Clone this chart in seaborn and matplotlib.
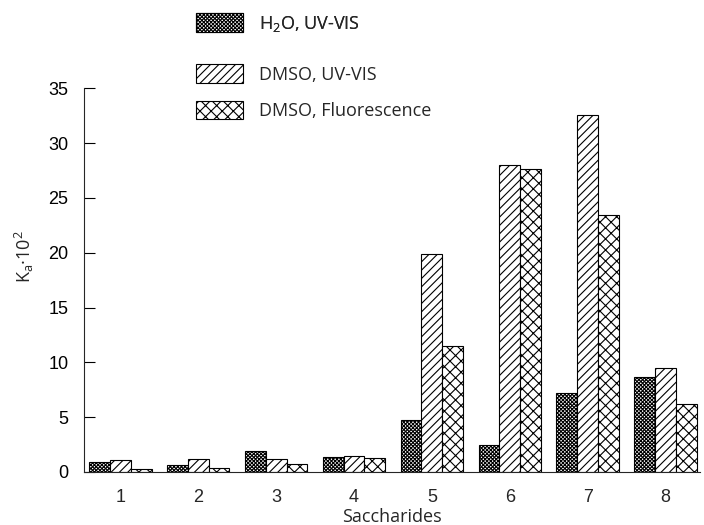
import matplotlib
matplotlib.use('Agg')
import matplotlib.pyplot as plt
import seaborn as sns
import pandas as pd

# dados
saccharides = ['1', '2', '3', '4', '5', '6', '7', '8']
h2o_uv = [0.9, 0.6, 1.9, 1.4, 4.7, 2.5, 7.2, 8.7]
dmso_uv = [1.1, 1.2, 1.2, 1.5, 19.9, 28.0, 32.6, 9.5]
dmso_fl = [0.3, 0.4, 0.7, 1.3, 11.5, 27.6, 23.4, 6.2]
series = ['H$_2$O, UV-VIS', 'DMSO, UV-VIS', 'DMSO, Fluorescence']

df = pd.DataFrame({
    'sac': saccharides * 3,
    'ka': h2o_uv + dmso_uv + dmso_fl,
    'serie': [s for s in series for _ in saccharides],
})

sns.set_style('ticks')
plt.rcParams['font.family'] = ['Open Sans', 'DejaVu Sans']
plt.rcParams['mathtext.fontset'] = 'custom'
plt.rcParams['mathtext.rm'] = 'Open Sans'
plt.rcParams['mathtext.it'] = 'Open Sans'
plt.rcParams['hatch.linewidth'] = 0.8

fig = plt.figure(figsize=(7.04, 5.25), dpi=100)
ax = fig.add_axes([0.119, 0.101, 0.875, 0.731])

sns.barplot(data=df, x='sac', y='ka', hue='serie', hue_order=series,
            palette=['white'] * 3, edgecolor='black', linewidth=0.8,
            width=0.8, ax=ax, legend=False)

# hachuras: escuro denso, diagonal, xadrez
hatches = ['xxxxxxxxx', '////', 'xxx']
for cont, h in zip(ax.containers, hatches):
    for bar in cont:
        bar.set_hatch(h)
        bar.set_edgecolor('black')

ax.set_ylim(0, 35)
ax.set_xlim(-0.47, 7.44)
ax.set_yticks(range(0, 36, 5))
ax.tick_params(axis='y', direction='in', length=8, pad=11, colors='black', width=0.8)
ax.tick_params(axis='x', length=0, pad=12)
for lab in ax.get_yticklabels() + ax.get_xticklabels():
    lab.set_fontfamily('Liberation Sans')
    lab.set_fontsize(13)
sns.despine(ax=ax)
ax.spines['left'].set_linewidth(0.8)
ax.spines['bottom'].set_linewidth(0.8)
ax.set_xlabel('Saccharides', fontsize=13, labelpad=2)
ax.set_ylabel('K$_\\mathrm{a}$·10$^2$', fontsize=13)
ax.yaxis.set_label_coords(-0.077, 0.56)

# legenda
handles = ax.containers
opts = dict(loc='upper left', frameon=False, fontsize=13, borderpad=0,
            borderaxespad=0, handlelength=2.6, handleheight=1.22,
            handletextpad=0.9)
leg1 = fig.legend([handles[0][0]], [series[0]],
                  bbox_to_anchor=(0.2784, 0.975), **opts)
leg2 = fig.legend([handles[1][0], handles[2][0]], series[1:],
                  bbox_to_anchor=(0.2784, 0.878), labelspacing=0.95, **opts)
fig.add_artist(leg1)

fig.savefig('out.png', dpi=100)
